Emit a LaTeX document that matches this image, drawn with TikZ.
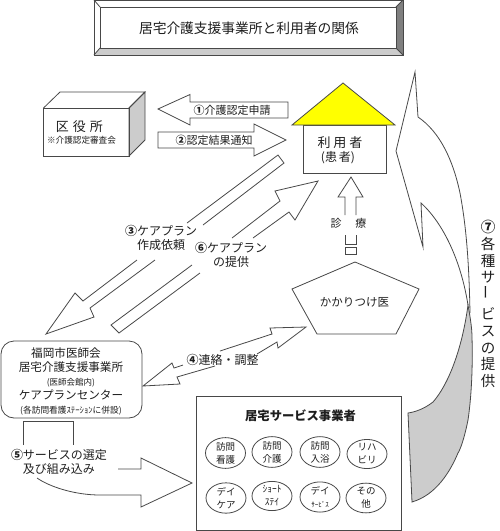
\documentclass[tikz,border=0pt]{standalone}
\usepackage{fontspec}
\setmainfont{Noto Sans CJK JP}
\usetikzlibrary{positioning, shapes.geometric}
\definecolor{cStroke}{RGB}{72,72,72}
\definecolor{cText}{RGB}{30,30,30}
\definecolor{cFillGray}{RGB}{204,204,204}
\definecolor{cBevel}{RGB}{128,128,128}
\definecolor{cRoof}{RGB}{255,255,0}
\tikzset{
  blockline/.style={draw=cStroke, line width=0.8pt, line join=miter},
  shadeface/.style={blockline, fill=cFillGray},
  lbl/.style={text=cText, inner sep=0pt, align=center, font=\fontsize{12}{14}\selectfont},
  lblS/.style={lbl, font=\fontsize{8.5}{10}\selectfont},
  svc/.style={ellipse, draw=cStroke, line width=0.8pt, inner sep=0pt, minimum width=40pt,
              minimum height=28pt, text=cText, align=center, font=\fontsize{9.5}{13}\selectfont},
}
\begin{document}
\begin{tikzpicture}[x=1pt, y=-1pt]
\useasboundingbox (0,0) rectangle (500,531);

%% ============================================================
%%  TITLE plate
%% ============================================================
\fill[white] (94,0) rectangle (403,55);
\fill[cFillGray] (94,55) -- (100,48) -- (396,48) -- (403,55) -- cycle;
\fill[cBevel] (403,0) -- (396,7) -- (396,48) -- (403,55) -- cycle;
\draw[blockline] (94,0) rectangle (403,55);
\draw[blockline] (100,7) rectangle (396,48);
\draw[blockline] (94,0) -- (100,7) (403,0) -- (396,7) (94,55) -- (100,48) (403,55) -- (396,48);
\node[lbl, font=\fontsize{13.75}{16}\selectfont] (title) at (249,28) {居宅介護支援事業所と利用者の関係};

%% ============================================================
%%  WARD OFFICE
%% ============================================================
\draw[shadeface] (129,108) -- (145,92) -- (145,140) -- (129,156) -- cycle;
\draw[blockline] (43.5,108) -- (60,92) -- (145,92) -- (129,108);
\node[rectangle, draw=cStroke, line width=0.8pt, minimum width=85.5pt, minimum height=48pt]
  (office) at (86.25,132) {};
\node[lbl, font=\fontsize{13}{15}\selectfont] (officeName) at (79.5,127) {区\hspace{4pt}役\hspace{4pt}所};
\node[lblS, font=\fontsize{8.6}{10}\selectfont] (officeNote) at (81.5,140) {※介護認定審査会};

%% ----- Steps 1 and 2 -----
\draw[blockline] (288,102) -- (190,102) -- (190,94.5) -- (158,109) -- (190,125) -- (190,118) -- (288,118) -- cycle;
\node[lbl, font=\fontsize{11}{13}\selectfont] (stepOne) at (232,110) {\textbf{①}介護認定申請};
\draw[blockline] (158,132) -- (254,132) -- (254,124) -- (286,140) -- (254,156) -- (254,148) -- (158,148) -- cycle;
\node[lbl, font=\fontsize{11}{13}\selectfont] (stepTwo) at (214,140) {\textbf{②}認定結果通知};

%% ============================================================
%%  HOUSE (user)
%% ============================================================
\node[rectangle, draw=cStroke, line width=0.8pt, minimum width=83pt, minimum height=48pt]
  (house) at (344.5,149) {};
\draw[blockline, fill=cRoof] (292,125) -- (343,83) -- (395,125) -- cycle;
\node[lbl, font=\fontsize{13}{15}\selectfont] (houseName) at (340,143) {利\hspace{3pt}用\hspace{3pt}者};
\node[lbl] (houseSub) at (338,158) {(患\hspace{2pt}者)};

%% ============================================================
%%  DOCTOR and consultation arrow
%% ============================================================
\draw[blockline] (345,215) -- (345,197) -- (338,197) -- (351,177) -- (363,197) -- (356,197) -- (356,215);
\draw[blockline] (345,235) -- (345,244) -- (356,244) -- (356,235);
\draw[blockline] (345,247) rectangle (356,254);
\node[lbl, font=\fontsize{11}{13}\selectfont] (consult) at (348.5,223) {診\hspace{14pt}療};

\draw[blockline] (355,262) -- (419,289) -- (396,334) -- (317,334) -- (292,289) -- cycle;
\node[lbl, font=\fontsize{11.5}{13}\selectfont] (doctor) at (354.5,302) {かかりつけ医};

%% ============================================================
%%  Steps 3 and 6
%% ============================================================
\draw[blockline] (137,260) -- (83,301) -- (75,293) -- (46,334) -- (94,317) -- (90,308) -- (155,260)
  (203,225) -- (284,163) -- (278,155) -- (187,223);
\node[lbl] (stepThree) at (161,238) {\textbf{③}ケアプラン\\作成依頼};

\draw[blockline] (192,265) -- (111,325) -- (119,333) -- (200,273)
  (253,238) -- (289,212) -- (295,220) -- (318,181) -- (275,191) -- (280,201) -- (232,238);
\node[lbl] (stepSix) at (231,254.5) {\textbf{⑥}ケアプラン\\の提供};

%% ============================================================
%%  CARE PLAN CENTRE
%% ============================================================
\node[rectangle, rounded corners=13pt, draw=cStroke, line width=0.8pt,
      minimum width=141pt, minimum height=77pt] (centre) at (71.5,379.5) {};
\node[lbl, font=\fontsize{11.6}{14.2}\selectfont] (centreText) at (71,381.5) {%
  福岡市医師会\hspace*{10pt}\\
  居宅介護支援事業所\\
  {\fontsize{8.5}{10}\selectfont (医師会館内)}\hspace*{12pt}\\
  ケアプランセンター\\
  {\fontsize{8.7}{10}\selectfont (各訪問看護ｽﾃｰｼｮﾝに併設)}};

%% ----- Step 4 -----
\draw[blockline] (183,365) -- (174,368) -- (172,363) -- (143,386) -- (180,384) -- (177,377) -- (215,366)
  (257,354) -- (277,342) -- (278,348) -- (306,327) -- (270,328) -- (272,334) -- (220,351);
\node[lbl] (stepFour) at (222.5,360) {\textbf{④}連絡・調整};

%% ----- Step 5 -----
\draw[blockline] (23,445) -- (23,421) -- (73,421) -- (73,445);
\draw[blockline] (37,478) .. controls (50,487) and (75,495) .. (100,495) -- (141,495) -- (141,507)
  -- (192,483) -- (141,458) -- (141,469) -- (118,469);
\node[lbl] (stepFive) at (59,461.5) {\textbf{⑤}サービスの選定\\及び組み込み};

%% ============================================================
%%  SERVICE PROVIDERS
%% ============================================================
\node[rectangle, draw=cStroke, line width=0.8pt, minimum width=205pt, minimum height=134pt]
  (provider) at (298.5,463) {};
\node[lbl, font=\bfseries\fontsize{12.3}{14}\selectfont] (providerName) at (300.5,416) {居宅サービス事業者};

\node[svc] (svcA) at (225.5,453) {訪問\\看護};
\node[svc] (svcB) at (272,452) {訪問\\介護};
\node[svc] (svcC) at (320,452) {訪問\\入浴};
\node[svc] (svcD) at (367,454) {リハ\\ビリ};
\node[svc, minimum height=30pt] (svcE) at (226,498) {デイ\\ケア};
\node[svc] (svcF) at (272,496) {ｼｮｰﾄ\\ｽﾃｲ};
\node[svc] (svcG) at (320,497) {デイ\\{\fontsize{7}{9}\selectfont ｻｰﾋﾞｽ}};
\node[svc] (svcH) at (366,498) {その\\他};

%% ============================================================
%%  Step 7
%% ============================================================
\draw[shadeface] (468,305) .. controls (470,316) and (472,328) .. (472,337)
  .. controls (473,370) and (471,400) .. (468,420)
  .. controls (464,440) and (460,450) .. (458,453)
  .. controls (450,472) and (436,495) .. (412,502)
  -- (408,413)
  .. controls (415,412) and (424,409) .. (433,402)
  .. controls (448,385) and (462,350) .. (468,305) -- cycle;
\draw[blockline] (470,313) .. controls (469,260) and (466,225) .. (460,193)
  .. controls (453,160) and (440,132) .. (418,117) -- (415,72) -- (396,151) -- (423,247) -- (421,203)
  .. controls (440,220) and (460,255) .. (468,305);

\node[lbl, font=\fontsize{14.5}{16.8}\selectfont] (stepSeven) at (488,304) {%
  \textbf{⑦}\\各\\種\\サ\\\rotatebox{90}{ー}\\[3pt]ビ\\ス\\の\\提\\供};

\end{tikzpicture}
\end{document}
